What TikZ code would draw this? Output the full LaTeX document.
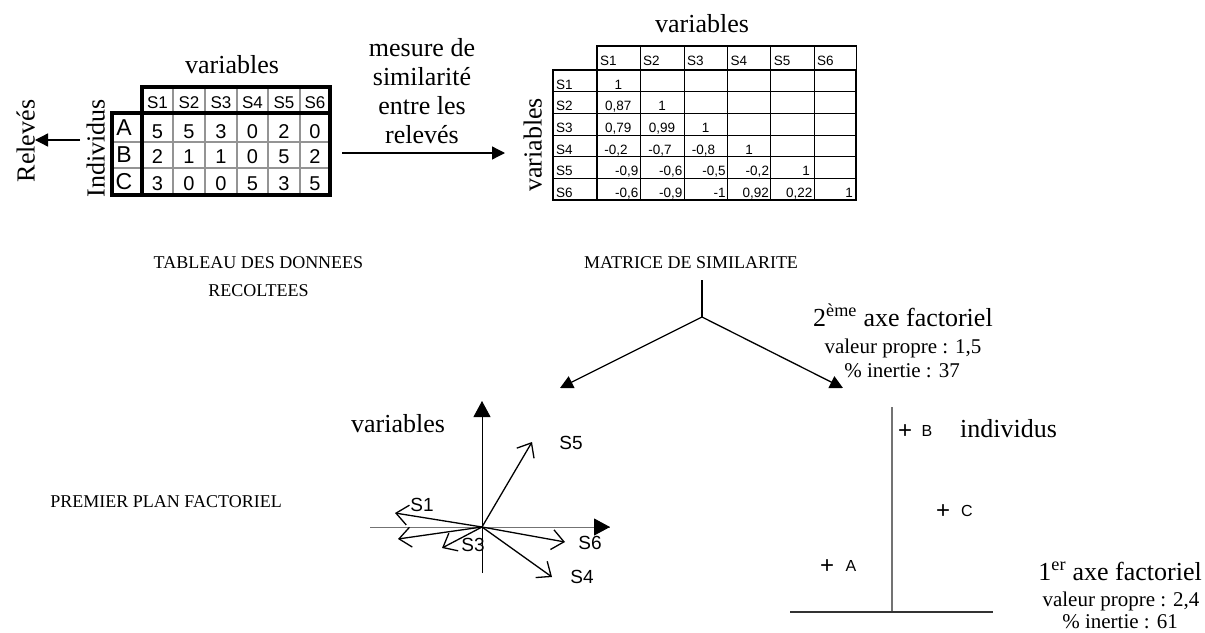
\documentclass[tikz,border=0pt]{standalone}
\usepackage{fontspec}
\setmainfont{Liberation Serif}
\setsansfont{Liberation Sans}
\usetikzlibrary{arrows.meta}
\begin{document}
\begin{tikzpicture}[x=1pt,y=-1pt,
  big/.style={font=\fontsize{26}{30}\selectfont, inner sep=0pt},
  mid/.style={font=\fontsize{21}{24}\selectfont, inner sep=0pt},
  captxt/.style={font=\fontsize{18}{22}\selectfont, inner sep=0pt},
  dval/.style={font=\sffamily\fontsize{20}{22}\selectfont, inner sep=0pt, anchor=base},
  dhead/.style={font=\sffamily\fontsize{17}{20}\selectfont, inner sep=0pt, anchor=base},
  dlab/.style={font=\sffamily\fontsize{23}{26}\selectfont, inner sep=0pt, anchor=base},
  mtxt/.style={font=\sffamily\fontsize{13.5}{15}\selectfont, inner sep=0pt},
  mc/.style={mtxt, anchor=base},
  mr/.style={mtxt, anchor=base east},
  ml/.style={mtxt, anchor=base west},
  vlab/.style={font=\sffamily\fontsize{19}{20}\selectfont, inner sep=0pt},
  plab/.style={font=\sffamily\fontsize{16}{18}\selectfont, inner sep=0pt},
  plus/.style={font=\sffamily\fontsize{24}{24}\selectfont, inner sep=0pt},
  dborder/.style={line width=3.2pt, line cap=rect},
  dgrid/.style={line width=2.6pt, draw=black!42},
  mborder/.style={line width=2.6pt, line cap=rect},
  mthin/.style={line width=1pt},
  bigarrow/.style={line width=1.3pt, -{Triangle[length=13pt,width=13pt]}},
  axisarrow/.style={line width=1pt, -{Triangle[length=16pt,width=17pt,black]}},
  vec/.style={line width=1.3pt, -{Straight Barb[length=12pt,width=20pt,line width=1.3pt]}},
  plainaxis/.style={line width=1pt, draw=black!55},
]
\useasboundingbox (0,0) rectangle (1205,632);

% ---------------- data table ----------------
\foreach \x in {173,205,237,268,300} \draw[dgrid] (\x,87) -- (\x,195);
\foreach \y in {142,168} \draw[dgrid] (112,\y) -- (330,\y);
\draw[dborder] (142,195) -- (142,87) -- (330,87) -- (330,195);
\draw[dborder] (112,113) rectangle (330,195);

\foreach \i/\x in {1/157.5,2/189,3/221,4/252.5,5/284,6/315}
  \node[dhead] (dh\i) at (\x,108) {S\i};
\node[dlab] (dA) at (124,135) {A};
\node[dlab] (dB) at (124,162) {B};
\node[dlab] (dC) at (124,189) {C};
\foreach \i/\x/\v in {1/157.5/5,2/189/5,3/221/3,4/252.5/0,5/284/2,6/315/0}
  \node[dval] (da\i) at (\x,138) {\v};
\foreach \i/\x/\v in {1/157.5/2,2/189/1,3/221/1,4/252.5/0,5/284/5,6/315/2}
  \node[dval] (db\i) at (\x,163.5) {\v};
\foreach \i/\x/\v in {1/157.5/3,2/189/0,3/221/0,4/252.5/5,5/284/3,6/315/5}
  \node[dval] (dc\i) at (\x,190) {\v};

\node[big, anchor=base] (dvar) at (232,73) {variables};
\node[big, rotate=90, anchor=south] (indiv) at (105,148) {Individus};
\node[big, rotate=90, anchor=south] (rel) at (35,141) {Relevés};
\coordinate (relstart) at (80,140);
\draw[bigarrow] (relstart) -- (rel.south |- relstart);

\node[captxt, anchor=base] (cap1a) at (258.5,268) {TABLEAU DES DONNEES};
\node[captxt, anchor=base] (cap1b) at (258.5,296.5) {RECOLTEES};

% ---------------- similarity arrow ----------------
\node[big, anchor=base] (ms1) at (422,56) {mesure de};
\node[big, anchor=base] (ms2) at (422,85) {similarité};
\node[big, anchor=base] (ms3) at (422,114) {entre les};
\node[big, anchor=base] (ms4) at (422,143) {relevés};
\coordinate (simstart) at (342,153);
\coordinate (simend) at (505,153);
\draw[bigarrow] (simstart) -- (simend);

% ---------------- similarity matrix ----------------
\foreach \x in {640,684,727.3,770.7,814} \draw[mthin] (\x,46) -- (\x,200);
\foreach \y in {91.7,113.3,135,156.7,178.3} \draw[mthin] (553,\y) -- (856,\y);
\draw[mthin] (856,46) -- (856,70);
\draw[mborder] (597,200) -- (597,46) -- (856,46);
\draw[mborder] (553,70) rectangle (856,200);

\foreach \i/\x in {1/597,2/640,3/684,4/727.3,5/770.7,6/814}
  \node[ml] (mh\i) at (\x+3,65) {S\i};
\foreach \i/\y in {1/89.2,2/110.8,3/132.5,4/154.2,5/175.8,6/197.5}
  \node[ml] (mrow\i) at (556,\y) {S\i};

\node[mc] (m11) at (618.3,89.2) {1};
\node[mc] (m21) at (618.3,110.8) {0,87};
\node[mc] (m22) at (662,110.8) {1};
\node[mc] (m31) at (618.3,132.5) {0,79};
\node[mc] (m32) at (662,132.5) {0,99};
\node[mc] (m33) at (705.7,132.5) {1};
\node[mc] (m41) at (616,154.2) {-0,2};
\node[mc] (m42) at (660,154.2) {-0,7};
\node[mc] (m43) at (703.5,154.2) {-0,8};
\node[mc] (m44) at (749,154.2) {1};
\node[mr] (m51) at (638.5,175.8) {-0,9};
\node[mr] (m52) at (682.5,175.8) {-0,6};
\node[mr] (m53) at (725.8,175.8) {-0,5};
\node[mr] (m54) at (769.2,175.8) {-0,2};
\node[mr] (m55) at (810,175.8) {1};
\node[mr] (m61) at (638.5,197.5) {-0,6};
\node[mr] (m62) at (682.5,197.5) {-0,9};
\node[mr] (m63) at (725.8,197.5) {-1};
\node[mr] (m64) at (769.2,197.5) {0,92};
\node[mr] (m65) at (812.5,197.5) {0,22};
\node[mr] (m66) at (853,197.5) {1};

\node[big, anchor=base] (mvar) at (702,32) {variables};
\node[big, rotate=90, anchor=south] (mvar2) at (542,145) {variables};
\node[captxt, anchor=base] (cap2) at (691,268) {MATRICE DE SIMILARITE};

% ---------------- branching ----------------
\coordinate (jtop) at (702,280);
\coordinate (j) at (702,317);
\coordinate (jl) at (560,388);
\coordinate (jr) at (843,388);
\draw[line width=1.3pt] (jtop) -- (j);
\draw[bigarrow] (j) -- (jl);
\draw[bigarrow] (j) -- (jr);

% ---------------- variables plane ----------------
\node[captxt, anchor=base east] (cap3) at (282,507) {PREMIER PLAN FACTORIEL};
\coordinate (O) at (482,527);
\coordinate (vtop) at (482,401);
\coordinate (vbot) at (482,573);
\coordinate (hl) at (370,527);
\coordinate (hr) at (610,527);
\draw[plainaxis] (hl) -- (hr);
\draw[axisarrow, draw=black!55] (O) -- (hr);
\draw[axisarrow] (vbot) -- (vtop);
\coordinate (v5) at (532,442);
\coordinate (v1) at (395,513);
\coordinate (v2) at (398,539);
\coordinate (v3) at (442,548);
\coordinate (v6) at (565,542);
\coordinate (v4) at (552,577);
\foreach \v in {v5,v1,v2,v3,v6,v4} \draw[vec] (O) -- (\v);
\node[vlab] (lS5) at (571,443) {S5};
\node[vlab] (lS1) at (422,505) {S1};
\node[vlab] (lS3) at (473,545) {S3};
\node[vlab] (lS6) at (590,543) {S6};
\node[vlab] (lS4) at (582,577) {S4};
\node[big, anchor=base] (pvar) at (398,432) {variables};

% ---------------- individuals plane ----------------
\node[big, anchor=base west] (ax2) at (813,326) {2\textsuperscript{ème} axe factoriel};
\node[mid, anchor=base] (ax2b) at (903,353) {valeur propre : 1,5};
\node[mid, anchor=base] (ax2c) at (902,377) {\% inertie : 37};
\coordinate (itop) at (892,407);
\coordinate (ibot) at (892,612);
\coordinate (il) at (790,612);
\coordinate (ir) at (993,612);
\draw[plainaxis, line width=1.2pt] (itop) -- (ibot);
\draw[plainaxis, line width=1.2pt, draw=black!80] (il) -- (ir);
\node[plus] (pB) at (905,432) {+};
\node[plab] (lB) at (927,431) {B};
\node[plus] (pC) at (943,512) {+};
\node[plab] (lC) at (967,511) {C};
\node[plus] (pA) at (827,567) {+};
\node[plab] (lA) at (851,566) {A};
\node[big, anchor=base west] (indlab) at (960,437) {individus};
\node[big, anchor=base east] (ax1) at (1202,580) {1\textsuperscript{er} axe factoriel};
\node[mid, anchor=base] (ax1b) at (1121,606) {valeur propre : 2,4};
\node[mid, anchor=base] (ax1c) at (1120,628) {\% inertie : 61};
\end{tikzpicture}
\end{document}
